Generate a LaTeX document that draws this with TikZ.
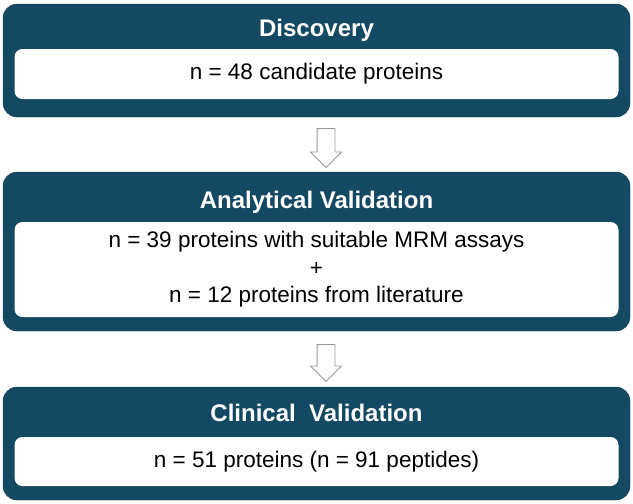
\documentclass[tikz,border=0pt]{standalone}
\usepackage{fontspec}
\setmainfont{Liberation Sans}
\usepackage{tikz}
\usetikzlibrary{shapes.arrows}
\definecolor{teal1}{RGB}{20,73,99}

\begin{document}
\begin{tikzpicture}[
                x = 1pt, y = -1pt,
                B/.style = {rectangle, rounded corners=14pt, draw=teal1!90!black, fill=teal1, minimum width=627pt, inner sep=0pt},
                W/.style = {rectangle, rounded corners=8pt, fill=white, minimum width=604pt, inner sep=0pt, align=center, font=\fontsize{22.5}{27.5}\selectfont},
                T/.style = {text=white, inner sep=0pt, font=\fontsize{24}{28}\selectfont\bfseries},
                A/.style = {single arrow, shape border rotate=270, draw=gray!80, fill=white, line width=0.8pt, minimum width=30pt, inner sep=8.5pt, single arrow head extend=6.5pt, single arrow head indent=0pt}
                    ]
                \useasboundingbox (0,0) rectangle (633,504);
                % stages
                \node[B, minimum height=113pt] (disc) at (316.5,60.5) {};
                \node[B, minimum height=159pt] (ana) at (316.5,251.5) {};
                \node[B, minimum height=113pt] (clin) at (316.5,443.5) {};
                \node[T] (disc1) at (316.5,30) {Discovery};
                \node[T] (ana1) at (316.5,202) {Analytical Validation};
                \node[T] (clin1) at (316.5,413) {Clinical~~Validation};
                \node[W, minimum height=50pt] (disc2) at (316.5,74) {n = 48 candidate proteins};
                \node[W, minimum height=95pt] (ana2) at (316.5,269.5) {n = 39 proteins with suitable MRM assays\\+\\n = 12 proteins from literature};
                \node[W, minimum height=49pt] (clin2) at (316.5,461.5) {n = 51 proteins (n = 91 peptides)};
                % arrows
                \node[A, minimum height=39pt] (a1) at (326,143.5) {};
                \node[A, minimum height=37pt] (a2) at (326,358.5) {};
            \end{tikzpicture}
\end{document}
